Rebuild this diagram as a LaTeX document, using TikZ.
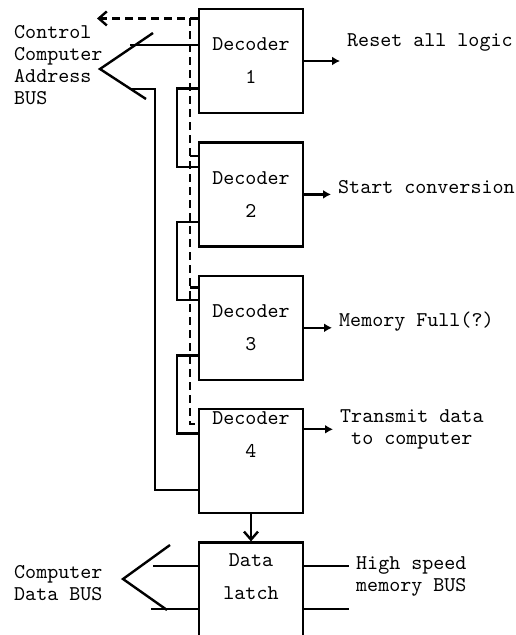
\documentclass[tikz,border=0pt]{standalone}
\usepackage{tikz}
\usetikzlibrary{arrows.meta, positioning, calc}

\begin{document}
\begin{tikzpicture}[
  x=0.5pt, y=-0.5pt,
  node distance=13.5pt,
  line width=1.2pt,
  box/.style={rectangle, draw, inner ysep=0pt, minimum width=52pt, minimum height=52pt, align=center, font=\ttfamily\fontsize{10.5}{16.5}\selectfont},
  lbl/.style={inner sep=3pt, align=left, font=\ttfamily\fontsize{10.5}{11}\selectfont},
  arrow/.style={-{Latex[length=4pt,width=4.5pt]}},
  barb/.style={-{Straight Barb[length=4pt,width=7pt]}},
  ctrlline/.style={dash pattern=on 4pt off 2.5pt},
]
\useasboundingbox (0,0) rectangle (515,635);

% Decoders
\node[box] (d1) at (251,61) {Decoder\\1};
\node[box, below=of d1] (d2) {Decoder\\2};
\node[box, below=of d2] (d3) {Decoder\\3};
\node[box, below=of d3] (d4) {Decoder\\4\\[10pt]\mbox{}};

% Latch
\node[box, below=of d4, minimum height=50pt] (latch) {Data\\latch\\\mbox{}};

% Outputs
\node[lbl, anchor=west] (reset) at (340,42) {Reset all logic};
\node[lbl, anchor=west] (start) at (331,187) {Start conversion};
\node[lbl, anchor=west] (full) at (332,322) {Memory Full(?)};
\node[lbl, anchor=north west, align=center] (trans) at (333,402) {Transmit data\\to computer};
\draw[arrow] (d1.east) -- (d1.east -| reset.west);
\draw[arrow] (d2.east) -- (d2.east -| start.west);
\draw[arrow] (d3.east) -- (d3.east -| full.west);
\coordinate (d4o) at ($(d4.north east)!0.2!(d4.south east)$);
\draw[arrow] (d4o) -- (d4o -| trans.west);

% Bus labels
\node[lbl, anchor=west] (abus) at (7,65) {Control\\Computer\\Address\\BUS};
\node[lbl, anchor=west] (dbus) at (7,583) {Computer\\Data BUS};
\node[lbl, anchor=west] (mbus) at (349,576) {High speed\\memory BUS};

% Control line
\coordinate (ctrl) at (97,20);
\coordinate (c1) at ($(d1.north west)!0.1!(d1.south west)$);
\coordinate (cv) at ($(c1)+(-8,0)$);
\draw[ctrlline, barb] (c1) -- (c1 -| ctrl);
\draw[ctrlline] (cv) |- ($(d4.north west)!0.15!(d4.south west)$);
\foreach \n/\f in {d2/0.14, d3/0.12}
  \draw ($(\n.north west)!\f!(\n.south west)$) -- ++(-8,0);

% Address bus
\coordinate (av) at (100,69);
\draw (153,33) -- (av) -- (146,99);
\draw ($(d1.north west)!0.35!(d1.south west)$) -- ++(-68,0);
\draw ($(d4.north west)!0.77!(d4.south west)$) -| (155,89) -- (131,89);

% Decoder chain
\foreach \a/\b in {d1/d2, d2/d3, d3/d4}
  \draw ($(\a.north west)!0.76!(\a.south west)$) -- ++(-21,0) |- ($(\b.north west)!0.24!(\b.south west)$);

% Data bus
\draw[barb] (d4) -- (latch);
\coordinate (dv) at (123,579);
\draw (170,545) -- (dv) -- (167,610);
\draw ($(latch.north west)!0.24!(latch.south west)$) -- ++(-45,0);
\draw ($(latch.north west)!0.66!(latch.south west)$) -- ++(-47,0);
\coordinate (m1) at ($(latch.north east)!0.24!(latch.south east)$);
\coordinate (m2) at ($(latch.north east)!0.66!(latch.south east)$);
\draw (m1) -- (m1 -| mbus.west);
\draw (m2) -- (m2 -| mbus.west);

\end{tikzpicture}
\end{document}
